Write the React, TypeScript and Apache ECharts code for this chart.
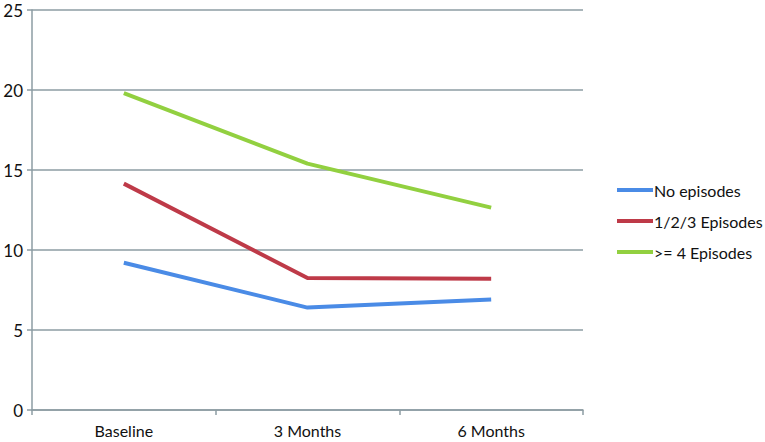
import React, { useEffect, useRef } from "react";
import * as echarts from "echarts";

const categories = ["Baseline", "3 Months", "6 Months"];
const noEpisodes = [9.2, 6.4, 6.9];
const episodes123 = [14.15, 8.25, 8.2];
const episodes4plus = [19.8, 15.4, 12.65];
const seriesNames = ["No episodes", "1/2/3 Episodes", ">= 4 Episodes"];
const seriesColors = ["#4A8BE6", "#BE3A48", "#92D040"];

export default function App() {
  const ref = useRef<HTMLDivElement>(null);
  useEffect(() => {
    if (!ref.current) return;
    const chart = echarts.init(ref.current, undefined, { renderer: "svg" });
    const font = "Lato, 'Open Sans', sans-serif";
    const axisColor = "#8D9CA3";
    const data = [noEpisodes, episodes123, episodes4plus];
    chart.setOption({
      animation: false,
      backgroundColor: "#ffffff",
      grid: { left: 32, right: 182, top: 10, bottom: 32, containLabel: false },
      xAxis: {
        type: "category",
        data: categories,
        boundaryGap: true,
        axisLine: { lineStyle: { color: axisColor, width: 1.5 } },
        axisTick: { show: true, length: 5, alignWithLabel: false, lineStyle: { color: axisColor, width: 1.5 } },
        axisLabel: { color: "#111111", fontSize: 16, fontFamily: font, margin: 12 },
      },
      yAxis: {
        type: "value",
        min: 0,
        max: 25,
        interval: 5,
        axisLine: { show: true, lineStyle: { color: axisColor, width: 1.5 } },
        axisTick: { show: true, length: 5, lineStyle: { color: axisColor, width: 1.5 } },
        splitLine: { show: true, lineStyle: { color: axisColor, width: 1.5 } },
        axisLabel: { color: "#111111", fontSize: 17, fontFamily: font, margin: 9 },
      },
      legend: {
        orient: "vertical",
        left: 612,
        top: 177,
        itemWidth: 36,
        itemHeight: 4,
        itemGap: 15,
        icon: "rect",
        textStyle: { color: "#111111", fontSize: 16, fontFamily: font, padding: [0, 0, 0, -4] },
        data: seriesNames,
      },
      series: seriesNames.map((name, i) => ({
        name,
        type: "line",
        data: data[i],
        symbol: "none",
        color: seriesColors[i],
        lineStyle: { width: 4, color: seriesColors[i] },
      })),
    });
    return () => chart.dispose();
  }, []);
  return <div ref={ref} style={{ width: 765, height: 442, position: "absolute", left: 0, top: 0 }} />;
}
